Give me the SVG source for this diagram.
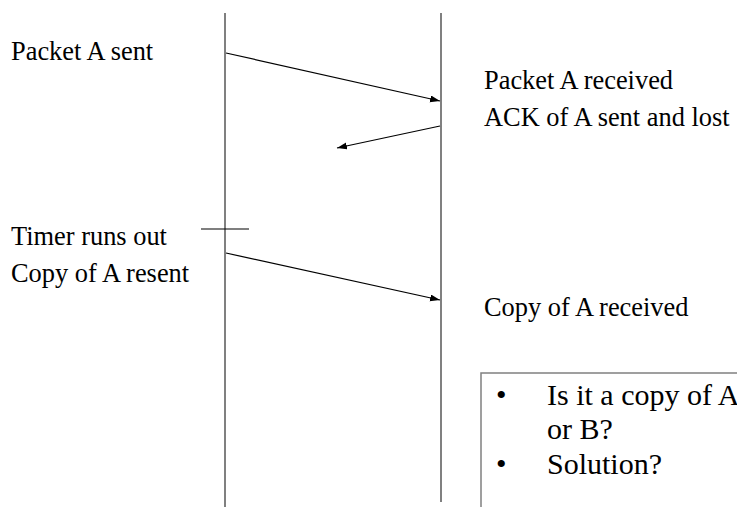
<svg xmlns="http://www.w3.org/2000/svg" width="737" height="507" viewBox="0 0 737 507">
  <style>
    .lifeline { stroke: #808080; stroke-width: 2; fill: none; }
    .msg { stroke: #000000; stroke-width: 1.2; fill: none; }
    text { font-family: 'Liberation Serif', 'Times New Roman', Times, serif; fill: #000000; }
    .label { font-size: 26.4px; }
    .note-text { font-size: 30px; }
    .note-box { fill: #ffffff; stroke: #808080; stroke-width: 1.5; }
  </style>
  <defs>
    <marker id="arrow" markerUnits="userSpaceOnUse" markerWidth="11" markerHeight="8" refX="10" refY="3.5" orient="auto">
      <path d="M0,0 L10,3.5 L0,7 z" fill="#000000"/>
    </marker>
  </defs>

  <rect width="737" height="507" fill="#ffffff"/>

  <!-- sender and receiver timelines -->
  <g id="sender">
    <line class="lifeline" x1="225" y1="13" x2="225" y2="507"/>
  </g>
  <g id="receiver">
    <line class="lifeline" x1="441" y1="13" x2="441" y2="502"/>
  </g>

  <!-- messages and timer tick -->
  <g id="connectors">
    <line class="msg" x1="226" y1="53" x2="440" y2="101" marker-end="url(#arrow)"/>
    <line class="msg" x1="440" y1="126" x2="337" y2="148" marker-end="url(#arrow)"/>
    <line class="msg" x1="201" y1="229" x2="249" y2="229"/>
    <line class="msg" x1="226" y1="253" x2="440" y2="300" marker-end="url(#arrow)"/>
  </g>

  <!-- event labels -->
  <g id="labels">
    <text class="label" x="11" y="60">Packet A sent</text>
    <text class="label" x="484" y="89">Packet A received</text>
    <text class="label" x="484" y="126">ACK of A sent and lost</text>
    <text class="label" x="11" y="245">Timer runs out</text>
    <text class="label" x="11" y="282">Copy of A resent</text>
    <text class="label" x="484" y="316">Copy of A received</text>
  </g>

  <!-- question box (runs past the right and bottom edges) -->
  <g id="note">
    <rect class="note-box" x="481" y="373" width="300" height="200"/>
    <text class="note-text" x="496" y="405">•</text>
    <text class="note-text" x="547" y="405">Is it a copy of A</text>
    <text class="note-text" x="547" y="439">or B?</text>
    <text class="note-text" x="496" y="474">•</text>
    <text class="note-text" x="547" y="474">Solution?</text>
  </g>
</svg>
